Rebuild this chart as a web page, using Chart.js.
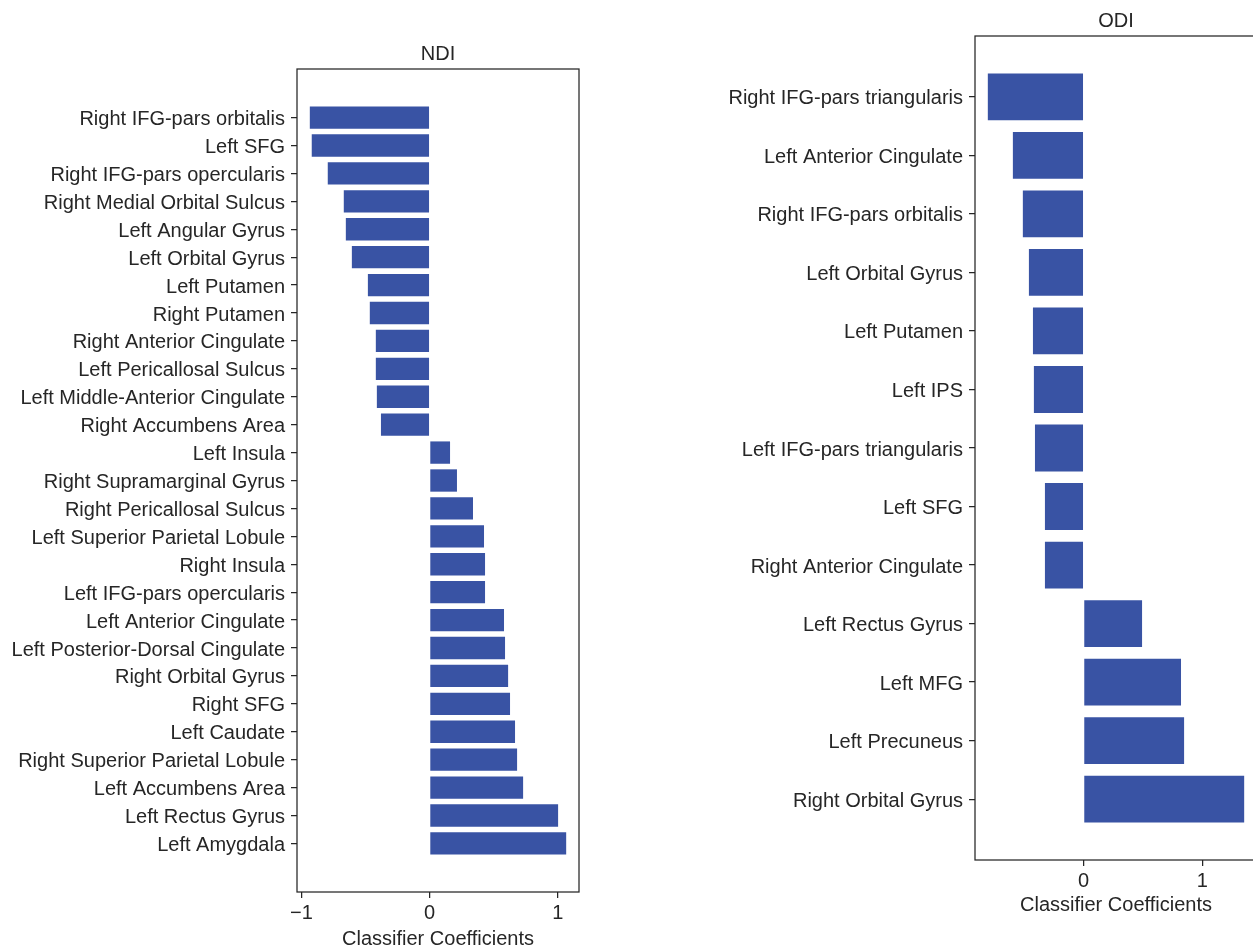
<!DOCTYPE html>
<html>
<head>
<meta charset="utf-8">
<script src="https://cdn.jsdelivr.net/npm/chart.js@4.4.1/dist/chart.umd.min.js"></script>
<style>
    body { margin: 0; width: 1253px; height: 947px; overflow: hidden; background: #fff; position: relative; }
    canvas { position: absolute; top: 0; }
    #ndi { left: 0; }
    #odi { left: 700px; }
</style>
</head>
<body>
<canvas id="ndi" width="600" height="947"></canvas>
<canvas id="odi" width="600" height="947"></canvas>
<script>
// NDI panel
const ndiLabels = [
    'Right IFG-pars orbitalis', 'Left SFG', 'Right IFG-pars opercularis', 'Right Medial Orbital Sulcus',
    'Left Angular Gyrus', 'Left Orbital Gyrus', 'Left Putamen', 'Right Putamen',
    'Right Anterior Cingulate', 'Left Pericallosal Sulcus', 'Left Middle-Anterior Cingulate', 'Right Accumbens Area',
    'Left Insula', 'Right Supramarginal Gyrus', 'Right Pericallosal Sulcus', 'Left Superior Parietal Lobule',
    'Right Insula', 'Left IFG-pars opercularis', 'Left Anterior Cingulate', 'Left Posterior-Dorsal Cingulate',
    'Right Orbital Gyrus', 'Right SFG', 'Left Caudate', 'Right Superior Parietal Lobule',
    'Left Accumbens Area', 'Left Rectus Gyrus', 'Left Amygdala'
];
const ndiValues = [
    -0.935, -0.92, -0.795, -0.67, -0.654, -0.607, -0.482, -0.467,
    -0.42, -0.42, -0.412, -0.38,
    0.159, 0.213, 0.338, 0.424, 0.432, 0.432, 0.58, 0.588,
    0.612, 0.627, 0.666, 0.682, 0.729, 1.002, 1.065
];
const ndiTicks = [-1, 0, 1];

// ODI panel
const odiLabels = [
    'Right IFG-pars triangularis', 'Left Anterior Cingulate', 'Right IFG-pars orbitalis', 'Left Orbital Gyrus',
    'Left Putamen', 'Left IPS', 'Left IFG-pars triangularis', 'Left SFG',
    'Right Anterior Cingulate', 'Left Rectus Gyrus', 'Left MFG', 'Left Precuneus', 'Right Orbital Gyrus'
];
const odiValues = [
    -0.807, -0.596, -0.512, -0.461, -0.427, -0.419, -0.41, -0.326,
    -0.326, 0.492, 0.82, 0.846, 1.352
];
const odiTicks = [0, 1];

const barColor = '#3953a4';
const edgeColor = '#262626';

Chart.defaults.font.family = "'Liberation Sans', Arial, sans-serif";
Chart.defaults.font.size = 20;
Chart.defaults.color = '#262626';

// draw the full box round the plot area (matplotlib spines) and the panel title over it
const boxOutline = {
    id: 'boxOutline',
    afterDraw(chart, args, options) {
        const a = chart.chartArea;
        const ctx = chart.ctx;
        ctx.save();
        ctx.strokeStyle = edgeColor;
        ctx.lineWidth = 1.25;
        ctx.strokeRect(a.left, a.top, a.right - a.left, a.bottom - a.top);

        ctx.fillStyle = '#262626';
        ctx.font = "20px 'Liberation Sans', Arial, sans-serif";
        ctx.textAlign = 'center';
        ctx.textBaseline = 'middle';
        ctx.fillText(options.text, (a.left + a.right) / 2, options.y);
        ctx.restore();
    }
};

function minusSign(v) {
    return v < 0 ? '\u2212' + Math.abs(v) : String(v);
}

function barh_chart(canvasId, title, labels, values, xTicks, opts) {
    const ctx = document.getElementById(canvasId).getContext('2d');

    const chartData = {
        datasets: [{
            data: values.map((v, i) => ({ x: v, y: i })),
            backgroundColor: barColor,
            borderWidth: 0,
            barPercentage: 0.8,
            categoryPercentage: 1.0
        }]
    };

    new Chart(ctx, {
        type: 'bar',
        data: chartData,
        plugins: [boxOutline],
        options: {
            responsive: false,
            animation: false,
            indexAxis: 'y',
            layout: { padding: opts.padding },
            plugins: {
                legend: { display: false },
                tooltip: { enabled: false },
                title: { display: false },
                boxOutline: { text: title, y: opts.titleY }
            },
            scales: {
                x: {
                    type: 'linear',
                    min: opts.xMin,
                    max: opts.xMax,
                    border: { display: false },
                    grid: { drawOnChartArea: false, drawTicks: true, tickLength: 6, tickColor: edgeColor, lineWidth: 1.25 },
                    afterBuildTicks: scale => { scale.ticks = xTicks.map(v => ({ value: v })); },
                    afterFit: scale => { scale.height = opts.xHeight; },
                    ticks: { padding: 3, callback: v => minusSign(v) },
                    title: { display: true, text: 'Classifier Coefficients', padding: { top: 0, bottom: opts.xTitlePad } }
                },
                y: {
                    type: 'linear',
                    reverse: true,
                    offset: false,
                    min: opts.yMin,
                    max: opts.yMax,
                    border: { display: false },
                    grid: { offset: false, drawOnChartArea: false, drawTicks: true, tickLength: 6, tickColor: edgeColor, lineWidth: 1.25 },
                    afterBuildTicks: scale => { scale.ticks = labels.map((l, i) => ({ value: i })); },
                    afterFit: scale => { scale.width = opts.yWidth; },
                    ticks: { autoSkip: false, padding: 6, labelOffset: 2, callback: v => labels[v] }
                }
            }
        }
    });
}

barh_chart('ndi', 'NDI', ndiLabels, ndiValues, ndiTicks, {
    xMin: -1.035, xMax: 1.165, yMin: -1.74, yMax: 27.74,
    yWidth: 297, xHeight: 55, xTitlePad: -4, titleY: 54,
    padding: { left: 0, right: 21, top: 69, bottom: 0 }
});

barh_chart('odi', 'ODI', odiLabels, odiValues, odiTicks, {
    xMin: -0.915, xMax: 1.46, yMin: -1.04, yMax: 13.04,
    yWidth: 275, xHeight: 56, xTitlePad: -1, titleY: 21.5,
    padding: { left: 0, right: 43, top: 36, bottom: 31 }
});
</script>
</body>
</html>
